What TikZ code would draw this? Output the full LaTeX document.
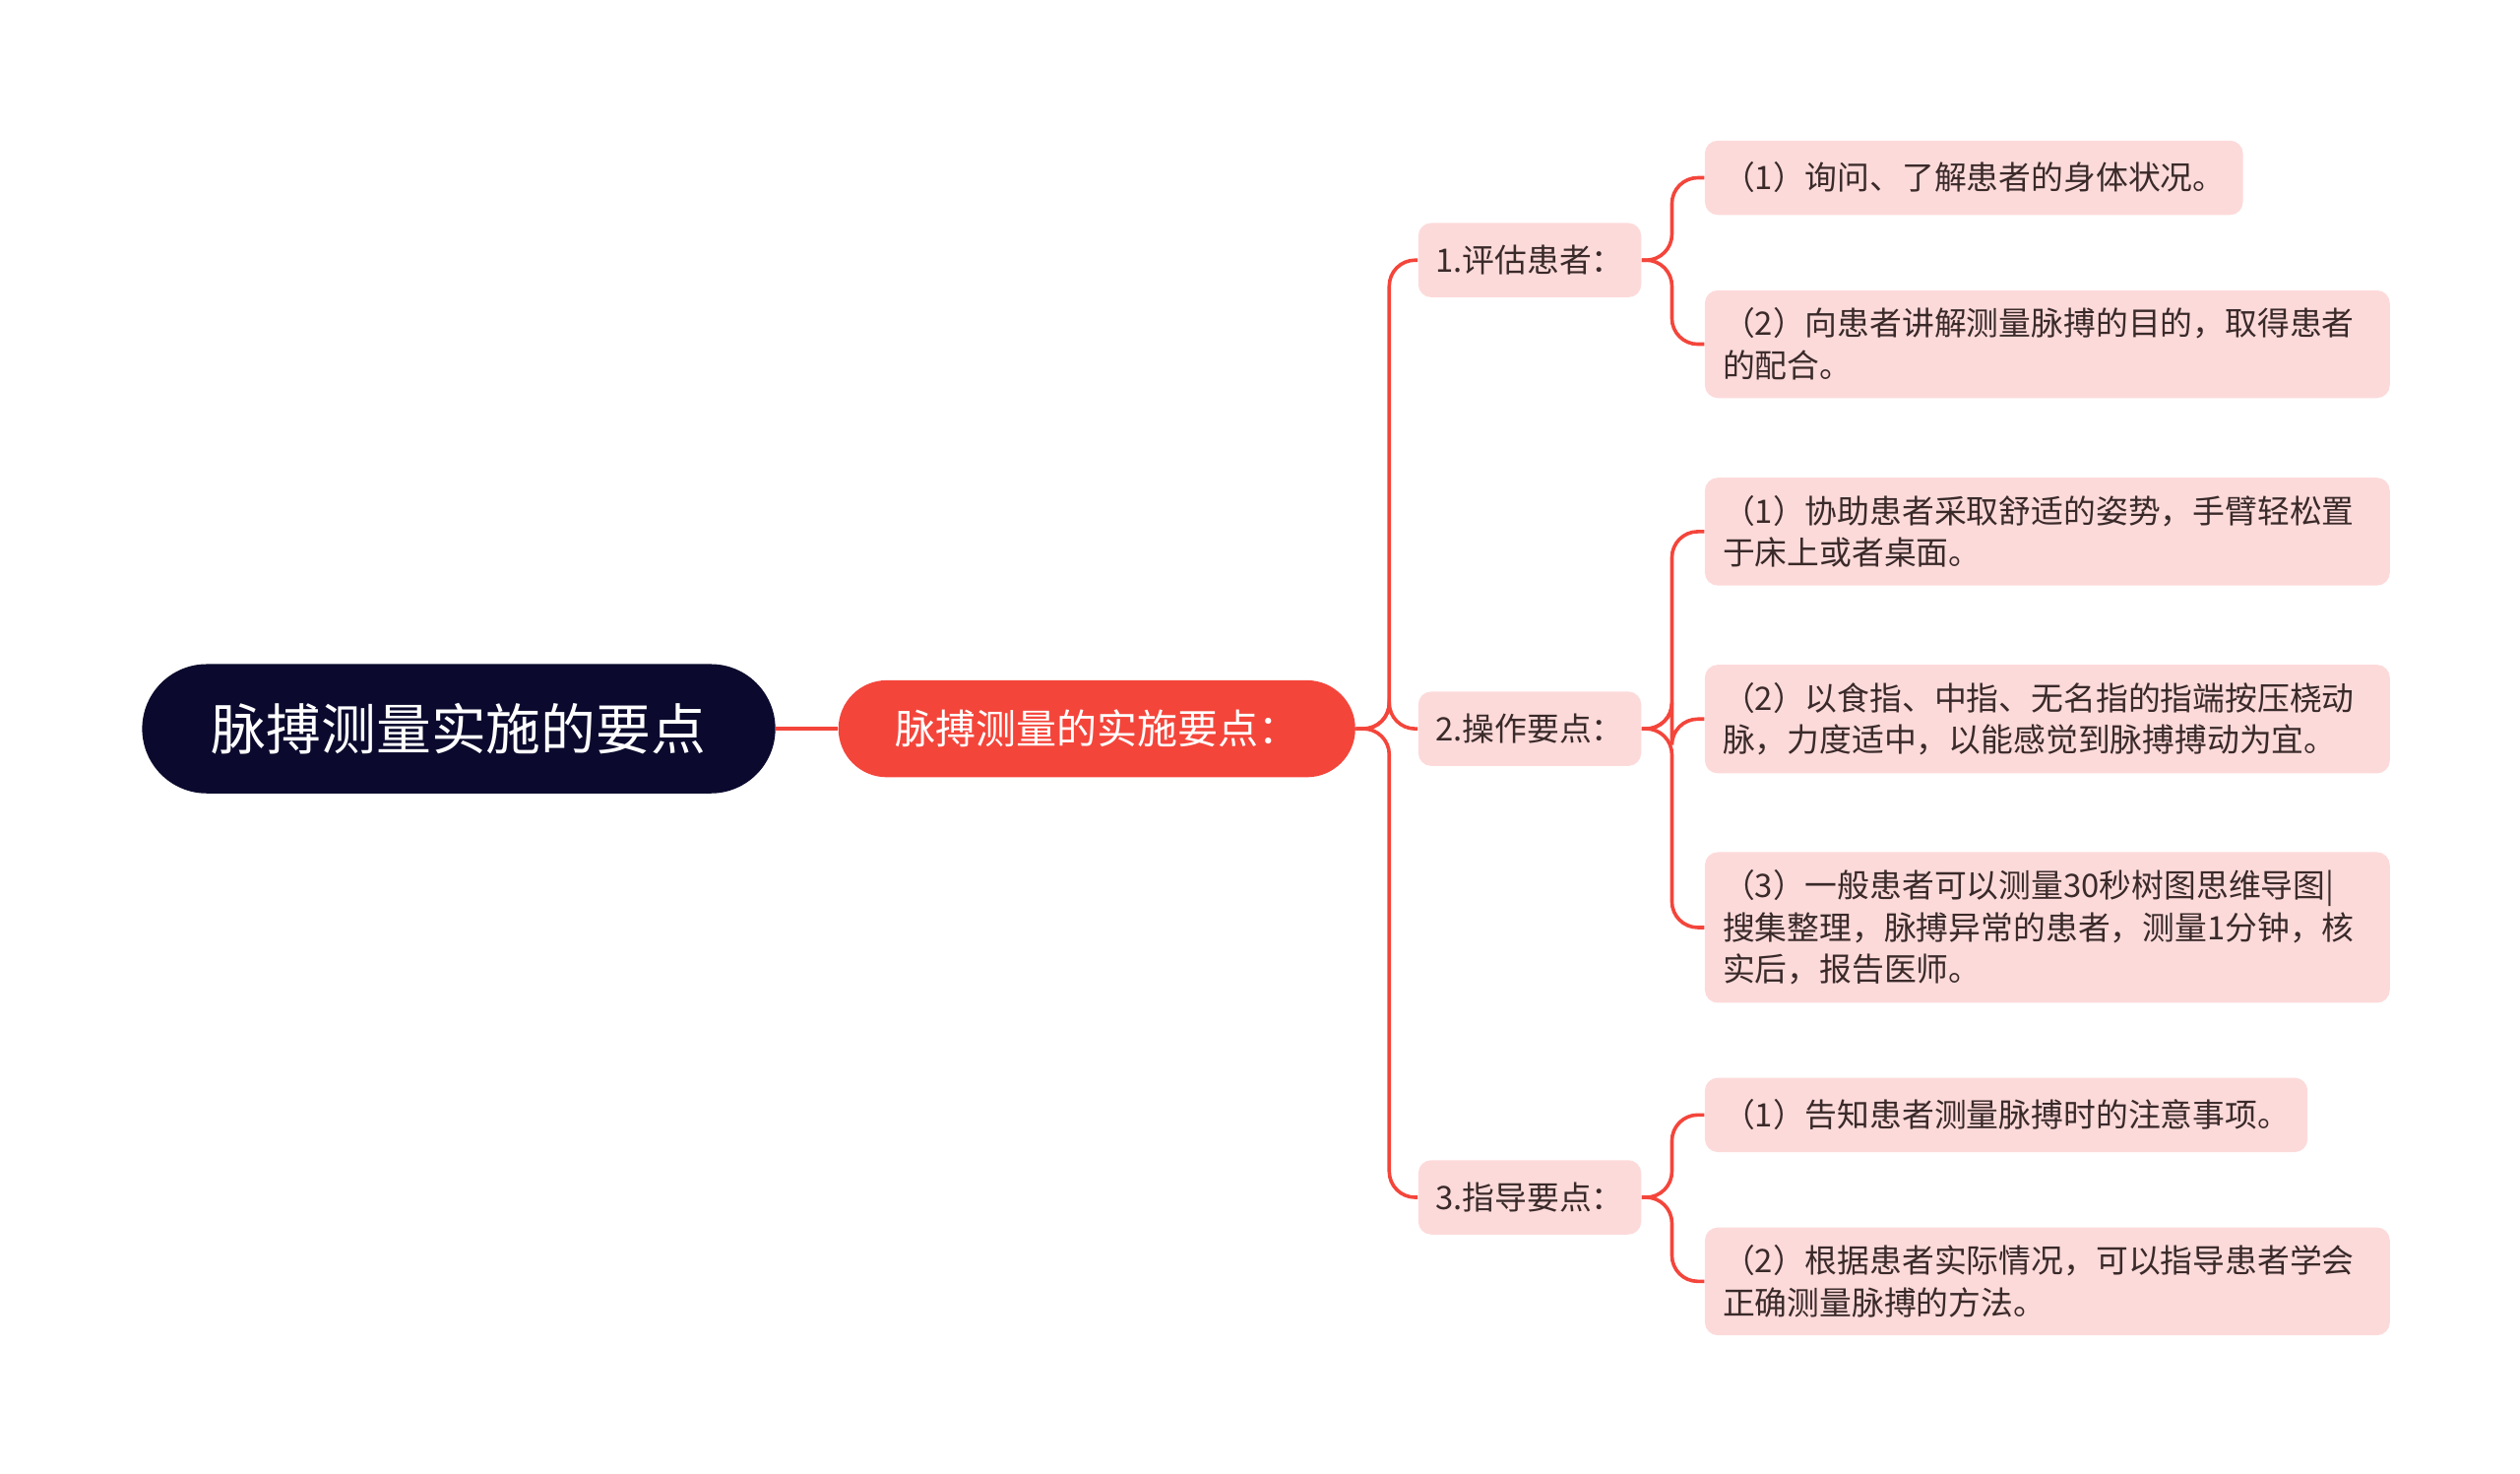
\documentclass[tikz,border=0pt]{standalone}
\usepackage{fontspec}
\setmainfont{Noto Sans CJK SC}
\begin{document}
\begin{tikzpicture}[x=0.5pt,y=-0.5pt,
 rootbox/.style={fill=rootc,rounded corners=20pt,minimum width=196pt,minimum height=40pt,text=white,font=\fontsize{17}{20}\selectfont},
 subbox/.style={fill=redc,rounded corners=15pt,minimum width=160pt,minimum height=30pt,text=white,font=\fontsize{12.5}{15}\selectfont},
 midbox/.style={fill=pinkc,rounded corners=4pt,minimum width=69pt,minimum height=23pt,text=textc,font=\fontsize{10}{13}\selectfont},
 leaf/.style={fill=pinkc,rounded corners=4pt,anchor=west,minimum height=23pt,inner xsep=5.5pt,inner ysep=5.5pt,text=textc,font=\fontsize{10}{13}\selectfont,align=left},
 wide/.style={leaf,text width=201pt},
 conn/.style={draw=redc,line width=1.1pt,rounded corners=8pt}]
\definecolor{rootc}{HTML}{0B0A2E}
\definecolor{redc}{HTML}{F4453B}
\definecolor{pinkc}{HTML}{FDDADA}
\definecolor{textc}{HTML}{3A2A2A}
\useasboundingbox (0,0) rectangle (1560,912);
\node[rootbox] (root) at (284,451) {脉搏测量实施的要点};
\node[subbox] (sub) at (679,451) {脉搏测量的实施要点：};
\node[midbox] (m1) at (947,161) {1.评估患者：};
\node[midbox] (m2) at (947,451) {2.操作要点：};
\node[midbox] (m3) at (947,741) {3.指导要点：};
\node[leaf] (a1) at (1055,110) {（1）询问、了解患者的身体状况。};
\node[wide] (a2) at (1055,213) {（2）向患者讲解测量脉搏的目的，取得患者\\的配合。};
\node[wide] (b1) at (1055,329) {（1）协助患者采取舒适的姿势，手臂轻松置\\于床上或者桌面。};
\node[wide] (b2) at (1055,445) {（2）以食指、中指、无名指的指端按压桡动\\脉，力度适中，以能感觉到脉搏搏动为宜。};
\node[wide] (b3) at (1055,574) {（3）一般患者可以测量30秒树图思维导图|\\搜集整理，脉搏异常的患者，测量1分钟，核\\实后，报告医师。};
\node[leaf] (c1) at (1055,690) {（1）告知患者测量脉搏时的注意事项。};
\node[wide] (c2) at (1055,793) {（2）根据患者实际情况，可以指导患者学会\\正确测量脉搏的方法。};
\coordinate (j0) at (860,451);
\coordinate (j1) at (1035,161);
\coordinate (j2) at (1035,451);
\coordinate (j3) at (1035,741);
\draw[conn] (root.east) -- (sub.west);
\foreach \m in {m1,m2,m3}{\draw[conn] (sub.east) -- (j0) |- (\m.west);}
\foreach \l in {a1,a2}{\draw[conn] (m1.east) -- (j1) |- (\l.west);}
\foreach \l in {b1,b2,b3}{\draw[conn] (m2.east) -- (j2) |- (\l.west);}
\foreach \l in {c1,c2}{\draw[conn] (m3.east) -- (j3) |- (\l.west);}
\end{tikzpicture}
\end{document}
